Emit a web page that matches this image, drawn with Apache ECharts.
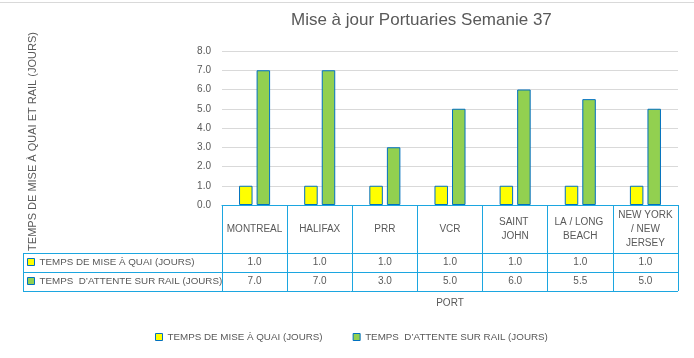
<!DOCTYPE html>
<html>
<head>
<meta charset="utf-8">
<script src="https://cdn.jsdelivr.net/npm/echarts@6/dist/echarts.min.js"></script>
<style>
html,body{margin:0;padding:0;background:#fff;}
#c{width:694px;height:358px;}
</style>
</head>
<body>
<div id="c"></div>
<script>
// ---- data ----
const titleText = 'Mise à jour Portuaries Semanie 37';
const yAxisTitle = 'TEMPS DE MISE À QUAI ET RAIL (JOURS)';
const xAxisTitle = 'PORT';
const categories = ['MONTREAL', 'HALIFAX', 'PRR', 'VCR', 'SAINT JOHN', 'LA / LONG BEACH', 'NEW YORK / NEW JERSEY'];
const seriesNames = ['TEMPS DE MISE À QUAI (JOURS)', 'TEMPS  D\u2019ATTENTE SUR RAIL (JOURS)'];
const quaiDays = [1.0, 1.0, 1.0, 1.0, 1.0, 1.0, 1.0];
const railDays = [7.0, 7.0, 3.0, 5.0, 6.0, 5.5, 5.0];
const yMin = 0, yMax = 8, yStep = 1;

// ---- layout / style ----
const W = 694, H = 358;
const FONT = 'Liberation Sans';
const TXT = '#595959';
const TABLE = '#1CA6E0';
const gridLeft = 222, gridRightX = 678, gridTop = 51, gridBottomY = 205;
const headerH = 48, rowH = 19, tableLeft = 23;
const row1Y = gridBottomY + headerH, row2Y = row1Y + rowH, row3Y = row2Y + rowH;

const chart = echarts.init(document.getElementById('c'), null, {renderer: 'canvas'});

function valueAxis(values, margin) {
  return {
    type: 'category', data: categories, position: 'bottom', gridIndex: 0, boundaryGap: true,
    axisLine: {show: false}, axisTick: {show: false}, splitLine: {show: false},
    axisLabel: {
      interval: 0, margin: margin, verticalAlign: 'middle', color: TXT, fontSize: 10, fontFamily: FONT,
      formatter: (v, i) => values[i].toFixed(1)
    }
  };
}

const hLine = (x1, y, x2) => ({type: 'line', silent: true, shape: {x1: x1, y1: y, x2: x2, y2: y}, style: {stroke: TABLE, lineWidth: 1}});

chart.setOption({
  animation: false,
  backgroundColor: '#ffffff',
  textStyle: {fontFamily: FONT},
  title: {
    text: titleText, left: 291, top: 12, padding: 0,
    textStyle: {fontFamily: FONT, fontSize: 17, fontWeight: 'normal', color: TXT}
  },
  legend: [
    {
      data: seriesNames, orient: 'horizontal', left: 155, top: 331, padding: 0,
      itemWidth: 7, itemHeight: 7, itemGap: 30, itemTextGap: 2, selectedMode: false,
      icon: 'rect',
      itemStyle: {borderColor: '#0070C0', borderWidth: 1},
      textStyle: {color: TXT, fontSize: 9.8, fontFamily: FONT, lineHeight: 12}
    },
    {
      data: seriesNames, orient: 'vertical', left: 27, top: row1Y + 3, padding: 0,
      itemWidth: 7, itemHeight: 7, itemGap: 7, itemTextGap: 2, selectedMode: false,
      icon: 'rect',
      itemStyle: {borderColor: '#0070C0', borderWidth: 1},
      textStyle: {color: TXT, fontSize: 9.8, fontFamily: FONT, lineHeight: 12}
    }
  ],
  grid: {
    left: gridLeft, right: W - gridRightX, top: gridTop, bottom: H - gridBottomY,
    containLabel: false, outerBoundsMode: 'none'
  },
  xAxis: [
    {
      type: 'category', data: categories, position: 'bottom', boundaryGap: true,
      name: xAxisTitle, nameLocation: 'middle', nameGap: 98,
      nameTextStyle: {color: TXT, fontSize: 10, fontFamily: FONT, verticalAlign: 'middle'},
      axisLine: {show: true, lineStyle: {color: TABLE, width: 1}},
      axisTick: {show: true, interval: 0, length: headerH + 2 * rowH, lineStyle: {color: TABLE, width: 1}},
      axisLabel: {
        interval: 0, margin: headerH / 2, verticalAlign: 'middle', align: 'center',
        width: 57, overflow: 'break', lineHeight: 14,
        color: TXT, fontSize: 10, fontFamily: FONT
      },
      splitLine: {show: false}
    },
    valueAxis(quaiDays, headerH + rowH / 2),
    valueAxis(railDays, headerH + rowH * 1.5)
  ],
  yAxis: {
    type: 'value', min: yMin, max: yMax, interval: yStep,
    axisLine: {show: false}, axisTick: {show: false},
    axisLabel: {margin: 11, color: TXT, fontSize: 10, fontFamily: FONT, formatter: v => v.toFixed(1)},
    splitLine: {show: true, lineStyle: {color: '#D9D9D9', width: 1}}
  },
  series: [
    {
      name: seriesNames[0], type: 'bar', xAxisIndex: 0, data: quaiDays,
      barWidth: 13.5, barGap: '30%',
      itemStyle: {color: '#FFFF00', borderColor: '#0070C0', borderWidth: 1}
    },
    {
      name: seriesNames[1], type: 'bar', xAxisIndex: 0, data: railDays,
      barWidth: 13.5, barGap: '30%',
      itemStyle: {color: '#92D050', borderColor: '#0070C0', borderWidth: 1}
    }
  ],
  graphic: [
    {type: 'line', silent: true, shape: {x1: 0, y1: 2.5, x2: W, y2: 2.5}, style: {stroke: '#D9D9D9', lineWidth: 1}},
    {
      type: 'text', silent: true, x: 33, y: 141.5, rotation: Math.PI / 2,
      style: {text: yAxisTitle, fill: TXT, fontSize: 11, fontFamily: FONT, align: 'center', verticalAlign: 'middle'}
    },
    hLine(tableLeft, row1Y + 0.5, gridRightX),
    hLine(tableLeft, row2Y + 0.5, gridRightX),
    hLine(tableLeft, row3Y + 0.5, gridRightX),
    {type: 'line', silent: true, shape: {x1: tableLeft + 0.5, y1: row1Y, x2: tableLeft + 0.5, y2: row3Y + 1}, style: {stroke: TABLE, lineWidth: 1}}
  ]
});
</script>
</body>
</html>
